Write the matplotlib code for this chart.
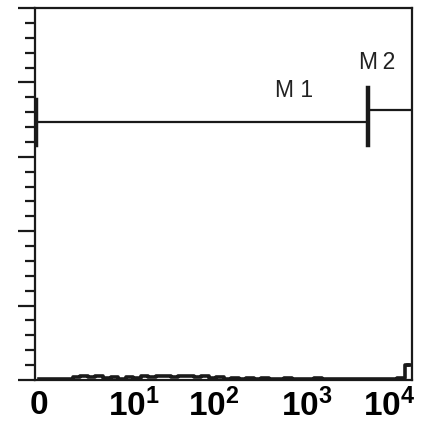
import numpy as np
import matplotlib
matplotlib.use("Agg")
import matplotlib.pyplot as plt

plt.rcParams['mathtext.fontset'] = 'custom'
plt.rcParams['mathtext.bf'] = 'Liberation Sans:bold'
plt.rcParams['mathtext.rm'] = 'Liberation Sans:bold'

# Histogram counts (y units 0-5) over 50 log-spaced channels from 10^0 to 10^4
counts = [0.02, 0.01, 0.01, 0.01, 0.01, 0.04, 0.05, 0.04, 0.05, 0.03,
          0.04, 0.02, 0.04, 0.03, 0.05, 0.04, 0.05, 0.05, 0.04, 0.05,
          0.05, 0.04, 0.05, 0.03, 0.04, 0.02, 0.03, 0.02, 0.03, 0.02,
          0.03, 0.02, 0.02, 0.03, 0.02, 0.02, 0.02, 0.03, 0.02, 0.01,
          0.02, 0.01, 0.01, 0.02, 0.01, 0.01, 0.01, 0.01, 0.03, 0.20]
edges_log = np.linspace(0, 4, len(counts) + 1)

# Markers
m1_start, m1_end, m1_level = 1.0, 3400.0, 3.47
m1_bar_left = (3.16, 3.76)
m2_start, m2_end, m2_level = 3400.0, 10000.0, 3.63
m2_bar = (3.16, 3.92)
m1_label_pos = (560.0, 3.89)
m2_label_pos = (4250.0, 4.27)

tick_pos_log = [0.042, 1.05, 1.90, 2.886, 3.756]
tick_labels = [r'$\mathbf{0}$', r'$\mathbf{10^{1}}$', r'$\mathbf{10^{2}}$',
               r'$\mathbf{10^{3}}$', r'$\mathbf{10^{4}}$']

fig = plt.figure(figsize=(4.36, 4.25), dpi=100)
ax = fig.add_axes([35/436, 45/425, 377/436, 372/425])
ax.set_xscale('log')
ax.set_xlim(1, 1e4)
ax.set_ylim(0, 5)

centers = 10 ** ((edges_log[:-1] + edges_log[1:]) / 2)
ax.step(centers, counts, where='mid', color='#1a1a1a', lw=2.6)
ax.plot([centers[-1], 1e4], [counts[-1], counts[-1]], color='#1a1a1a', lw=2.6)

lw_m = 1.6
ax.plot([m1_start, m1_end], [m1_level, m1_level], color='#1a1a1a', lw=lw_m)
ax.plot([1.03, 1.03], m1_bar_left, color='#1a1a1a', lw=3.2)
ax.plot([m1_end, m1_end], m2_bar, color='#1a1a1a', lw=3.2)
ax.plot([m2_start, m2_end], [m2_level, m2_level], color='#1a1a1a', lw=lw_m)
ax.text(*m1_label_pos, 'M 1', ha='center', va='center', fontsize=16.5,
        family='Liberation Sans', color='#222222')
ax.text(*m2_label_pos, 'M\u20092', ha='center', va='center', fontsize=16.5,
        family='Liberation Sans', color='#222222')

for s in ax.spines.values():
    s.set_linewidth(1.6)
    s.set_color('#1a1a1a')

ax.set_yticks(np.arange(0, 5.01, 1))
ax.set_yticks(np.arange(0, 5.01, 0.2), minor=True)
ax.tick_params(axis='y', which='major', direction='out', length=12, width=1.6,
               colors='#1a1a1a', labelleft=False)
ax.tick_params(axis='y', which='minor', direction='out', length=7, width=1.6,
               colors='#1a1a1a')
ax.set_xticks(10 ** np.array(tick_pos_log))
ax.set_xticklabels(tick_labels)
ax.xaxis.set_minor_locator(matplotlib.ticker.NullLocator())
ax.tick_params(axis='x', which='major', length=0, pad=6, labelsize=24)

fig.savefig('out.png', dpi=100)
